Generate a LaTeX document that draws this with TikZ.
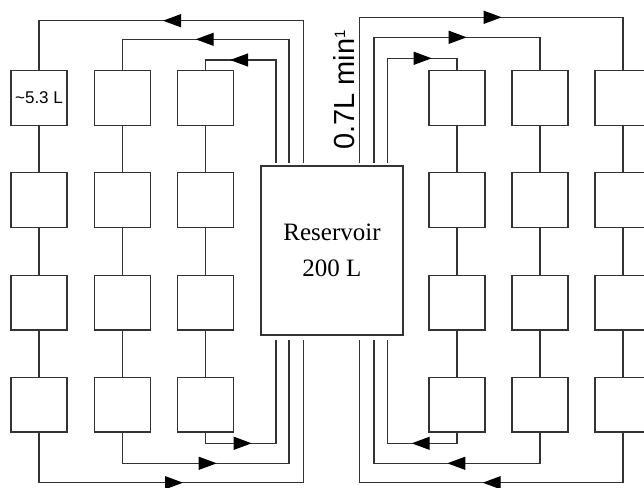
\documentclass[tikz,border=0pt]{standalone}
\usepackage{fontspec}
\setmainfont{Liberation Serif}
\newfontfamily\arialf{Liberation Sans}
\usetikzlibrary{arrows.meta,decorations.markings}
\tikzset{
  line/.style={draw=black!80, line width=1.2pt},
  box/.style={line, rectangle, fill=white, minimum width=56pt, minimum height=54.5pt, inner sep=0pt, outer sep=0pt},
  flow/.style={line},
  arrowat/.style={postaction={decorate}, decoration={markings, mark=at position #1 with {\arrow[black]{Triangle[length=18pt,width=13pt]}}}},
}
\begin{document}
\begin{tikzpicture}[x=1pt,y=-1pt]
\useasboundingbox[fill=white] (0,0) rectangle (644,487);
% boxes
\foreach \c/\x in {1/39,2/122.5,3/205.5,4/457,5/540,6/623}{
  \foreach \r/\y in {1/98,2/200,3/302.75,4/404.75}{
    \node[box] (B\c\r) at (\x,\y) {};
  }
  \draw[flow] (B\c1) -- (B\c2) -- (B\c3) -- (B\c4);
}
\node[font=\arialf\fontsize{17}{17}\selectfont] at (B11) {\textasciitilde5.3 L};
% reservoir
\node[line, minimum width=142pt, minimum height=169pt, inner sep=0pt, outer sep=0pt, align=center,
      font=\fontsize{25}{36}\selectfont] (Res) at (332,250.5) {Reservoir\\200 L};
% riser ends
\coordinate (LTo) at (303.3,162.7);
\coordinate (LTm) at (289,162.7);
\coordinate (LTi) at (276,162.7);
\coordinate (RTo) at (359.5,162.7);
\coordinate (RTm) at (374,162.7);
\coordinate (RTi) at (387.5,162.7);
\coordinate (LBo) at (303.3,340);
\coordinate (LBm) at (289,340);
\coordinate (LBi) at (276,340);
\coordinate (RBo) at (359.5,340);
\coordinate (RBm) at (374,340);
\coordinate (RBi) at (387.5,340);
% top loops
\draw[flow, arrowat=282.3pt] (LTo) -- (303.3,20.7) -| (B11);
\draw[flow, arrowat=216.7pt] (LTm) -- (289,39.3) -| (B21);
\draw[flow, arrowat=148.7pt] (LTi) -- (276,60) -| (B31);
\draw[flow, arrowat=287.6pt] (RTo) -- (359.5,17.3) -| (B61);
\draw[flow, arrowat=218.1pt] (RTm) -- (374,37.3) -| (B51);
\draw[flow, arrowat=148.6pt] (RTi) -- (387.5,58.3) -| (B41);
% bottom loops
\draw[flow, arrowat=194.7pt] (B14) |- (303.3,482.7) -- (LBo);
\draw[flow, arrowat=125.5pt] (B24) |- (289,463.3) -- (LBm);
\draw[flow, arrowat=57.5pt] (B34) |- (276,443.3) -- (LBi);
\draw[flow, arrowat=191pt] (B64) |- (359.5,482.7) -- (RBo);
\draw[flow, arrowat=124pt] (B54) |- (374,463.3) -- (RBm);
\draw[flow, arrowat=56.6pt] (B44) |- (387.5,443.3) -- (RBi);
% flow rate label
\node[rotate=90, anchor=base west, inner sep=0pt, font=\arialf\fontsize{29}{29}\selectfont] (rate) at (354,150) {0.7L min\raisebox{9pt}{\fontsize{15}{15}\selectfont 1}};
\end{tikzpicture}
\end{document}
